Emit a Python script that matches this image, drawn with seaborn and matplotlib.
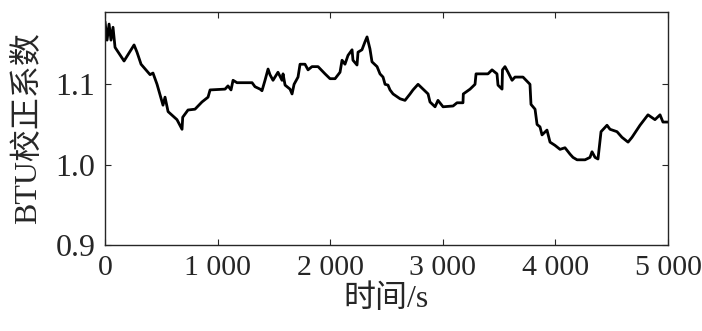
import numpy as np
import pandas as pd
import matplotlib
matplotlib.use("Agg")
import matplotlib.pyplot as plt
import seaborn as sns

# 
########################################################################
# Dados
########################################################################
#
tempo = [0, 18, 36, 53, 71, 89, 169, 258, 284, 320, 400, 426, 462, 488, 515,
         533, 560, 639, 684, 690, 737, 799, 861, 915, 933, 1066, 1092, 1119,
         1137, 1172, 1306, 1332, 1377, 1394, 1421, 1448, 1465, 1492, 1536,
         1572, 1581, 1599, 1643, 1661, 1679, 1714, 1732, 1776, 1803, 1838,
         1892, 1954, 1998, 2043, 2087, 2105, 2131, 2158, 2194, 2202, 2238,
         2247, 2282, 2309, 2327, 2353, 2371, 2416, 2442, 2469, 2487, 2513,
         2531, 2558, 2620, 2664, 2709, 2735, 2780, 2824, 2869, 2886, 2931,
         2957, 3002, 3091, 3126, 3179, 3182, 3242, 3286, 3295, 3401, 3437,
         3481, 3490, 3526, 3530, 3552, 3579, 3615, 3641, 3712, 3774, 3783,
         3819, 3837, 3863, 3881, 3925, 3952, 3996, 4041, 4085, 4130, 4156,
         4192, 4263, 4307, 4325, 4352, 4378, 4405, 4458, 4485, 4547, 4591,
         4645, 4680, 4751, 4822, 4884, 4929, 4955, 5000]

coef = [1.178, 1.155, 1.175, 1.155, 1.171, 1.146, 1.129, 1.149, 1.140, 1.125,
        1.112, 1.114, 1.100, 1.087, 1.074, 1.084, 1.066, 1.056, 1.044, 1.059,
        1.068, 1.069, 1.078, 1.084, 1.093, 1.094, 1.098, 1.093, 1.105, 1.102,
        1.102, 1.097, 1.094, 1.092, 1.105, 1.119, 1.112, 1.105, 1.115, 1.105,
        1.113, 1.099, 1.094, 1.088, 1.100, 1.109, 1.125, 1.125, 1.118, 1.122,
        1.122, 1.113, 1.107, 1.107, 1.115, 1.130, 1.125, 1.136, 1.143, 1.130,
        1.124, 1.140, 1.143, 1.153, 1.159, 1.144, 1.128, 1.122, 1.113, 1.109,
        1.100, 1.099, 1.093, 1.088, 1.082, 1.080, 1.088, 1.093, 1.100, 1.094,
        1.088, 1.078, 1.072, 1.080, 1.072, 1.073, 1.077, 1.077, 1.088, 1.094,
        1.100, 1.113, 1.113, 1.118, 1.113, 1.099, 1.094, 1.118, 1.122, 1.115,
        1.105, 1.109, 1.109, 1.100, 1.075, 1.069, 1.050, 1.047, 1.037, 1.043,
        1.028, 1.024, 1.019, 1.021, 1.013, 1.009, 1.006, 1.006, 1.009, 1.016,
        1.009, 1.007, 1.041, 1.049, 1.044, 1.041, 1.034, 1.028, 1.034, 1.049,
        1.062, 1.056, 1.062, 1.053, 1.053]

xticks = [0, 1000, 2000, 3000, 4000, 5000]
xrotulos = ["0", "1 000", "2 000", "3 000", "4 000", "5 000"]
yticks = [0.9, 1.0, 1.1]
yrotulos = ["0.9", "1.0", "1.1"]

df = pd.DataFrame({"t": tempo, "c": coef})

# 
########################################################################
# Grafico
########################################################################
#
sns.set_style("ticks")
fontes = ["Liberation Serif", "Noto Sans CJK SC", "DejaVu Sans"]
plt.rcParams["font.family"] = fontes

Grafico = plt.figure(figsize=(7.02, 3.31), dpi=100)
ax = Grafico.add_axes([0.1496, 0.26, 0.802, 0.7037])

sns.lineplot(data=df, x="t", y="c", ax=ax, color="black", linewidth=2.0)

ax.set_xlim(0, 5000)
ax.set_ylim(0.9, 1.19)
ax.set_xticks(xticks)
ax.set_xticklabels(xrotulos)
ax.set_yticks(yticks)
ax.set_yticklabels(yrotulos)
ax.tick_params(direction="in", top=True, right=True, length=4, width=0.8,
               labelsize=23, pad=7)
ax.tick_params(axis="x", labelsize=21.5)
for s in ax.spines.values():
    s.set_linewidth(1.0)
    s.set_visible(True)

ax.set_xlabel("时间/s", fontsize=23, family=fontes, labelpad=3)
ax.set_ylabel("BTU校正系数", fontsize=23, family=fontes, labelpad=8)

Grafico.savefig("out.png", dpi=100)
